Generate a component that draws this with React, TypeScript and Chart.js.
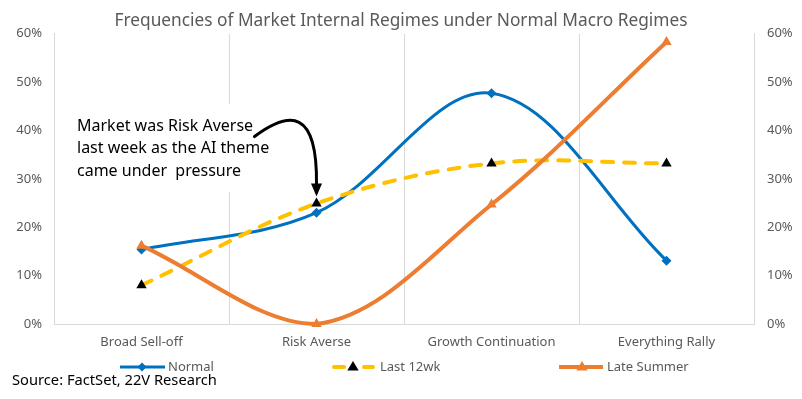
import React, { useEffect, useRef } from "react";
import { Chart, registerables } from "chart.js";

Chart.register(...registerables);

const titleText = "Frequencies of Market Internal Regimes under Normal Macro Regimes";
const categories = ["Broad Sell-off", "Risk Averse", "Growth Continuation", "Everything Rally"];
const normal = [15.4, 23.0, 47.7, 13.1];
const last12wk = [8.0, 24.9, 33.2, 33.2];
const lateSummer = [16.2, 0, 24.7, 58.3];
const seriesNames = ["Normal", "Last 12wk", "Late Summer"];
const annotationLines = ["Market was Risk Averse", "last week as the AI theme", "came under  pressure"];
const sourceText = "Source: FactSet, 22V Research";

const FONT = "'Noto Sans', sans-serif";
const GREY = "#595959";
const BLUE = "#0070C0";
const YELLOW = "#FFC000";
const ORANGE = "#ED7D31";
const GRID = "#D9D9D9";

function drawTri(ctx: CanvasRenderingContext2D, x: number, y: number, r: number, color: string) {
  ctx.save();
  ctx.fillStyle = color;
  ctx.beginPath();
  ctx.moveTo(x, y - r);
  ctx.lineTo(x + r * 0.95, y + r * 0.6);
  ctx.lineTo(x - r * 0.95, y + r * 0.6);
  ctx.closePath();
  ctx.fill();
  ctx.restore();
}

const extrasPlugin = {
  id: "extras",
  beforeDatasetsDraw(chart: any) {
    const ctx = chart.ctx;
    ctx.save();
    ctx.fillStyle = "#ffffff";
    ctx.fillRect(70, 104, 184, 88);
    ctx.restore();
  },
  afterDatasetsDraw(chart: any) {
    const ctx: CanvasRenderingContext2D = chart.ctx;
    const xs = chart.scales.x;
    const ys = chart.scales.y;
    // annotation text
    ctx.save();
    ctx.fillStyle = "#000000";
    ctx.font = `16px ${FONT}`;
    ctx.textAlign = "left";
    ctx.textBaseline = "middle";
    annotationLines.forEach((t, i) => ctx.fillText(t, 77, 126 + i * 22.5));
    // arrow
    const tipX = xs.getPixelForValue(1);
    const tipY = ys.getPixelForValue(last12wk[1]) - 7;
    ctx.strokeStyle = "#000000";
    ctx.lineWidth = 3;
    ctx.lineCap = "round";
    ctx.beginPath();
    ctx.moveTo(tipX - 62, tipY - 60);
    ctx.bezierCurveTo(tipX - 27, tipY - 86, tipX + 1, tipY - 88, tipX, tipY - 12);
    ctx.stroke();
    ctx.fillStyle = "#000000";
    ctx.beginPath();
    ctx.moveTo(tipX - 5.5, tipY - 13);
    ctx.lineTo(tipX + 5.5, tipY - 13);
    ctx.lineTo(tipX, tipY);
    ctx.closePath();
    ctx.fill();
    ctx.restore();

    // legend
    const ly = 367;
    ctx.save();
    ctx.lineCap = "butt";
    // Normal
    ctx.strokeStyle = BLUE;
    ctx.lineWidth = 3;
    ctx.beginPath();
    ctx.moveTo(120, ly);
    ctx.lineTo(165, ly);
    ctx.stroke();
    ctx.fillStyle = BLUE;
    ctx.beginPath();
    ctx.moveTo(142, ly - 4.5);
    ctx.lineTo(146.5, ly);
    ctx.lineTo(142, ly + 4.5);
    ctx.lineTo(137.5, ly);
    ctx.closePath();
    ctx.fill();
    // Last 12wk
    ctx.strokeStyle = YELLOW;
    ctx.lineWidth = 4;
    ctx.lineCap = "round";
    ctx.beginPath();
    ctx.moveTo(334, ly);
    ctx.lineTo(344, ly);
    ctx.moveTo(364, ly);
    ctx.lineTo(373, ly);
    ctx.stroke();
    drawTri(ctx, 353, ly, 6, "#000000");
    // Late Summer
    ctx.strokeStyle = ORANGE;
    ctx.lineWidth = 4;
    ctx.lineCap = "butt";
    ctx.beginPath();
    ctx.moveTo(559, ly);
    ctx.lineTo(603, ly);
    ctx.stroke();
    drawTri(ctx, 582, ly, 6, ORANGE);
    ctx.fillStyle = GREY;
    ctx.font = `13px ${FONT}`;
    ctx.textAlign = "left";
    ctx.textBaseline = "middle";
    ctx.fillText(seriesNames[0], 168, ly);
    ctx.fillText(seriesNames[1], 380, ly);
    ctx.fillText(seriesNames[2], 607, ly);
    // source
    ctx.fillStyle = "#000000";
    ctx.font = `14.7px ${FONT}`;
    ctx.fillText(sourceText, 12, 381);
    ctx.restore();
  },
};

export default function App() {
  const ref = useRef<HTMLCanvasElement | null>(null);
  useEffect(() => {
    if (!ref.current) return;
    const yTicks = {
      stepSize: 10,
      color: GREY,
      font: { family: FONT, size: 13 },
      callback: (v: any) => `${v}%`,
    };
    const chart = new Chart(ref.current, {
      type: "line",
      data: {
        labels: categories,
        datasets: [
          {
            label: seriesNames[0],
            data: normal,
            borderColor: BLUE,
            backgroundColor: BLUE,
            borderWidth: 3,
            tension: 0.35,
            pointStyle: "rectRot",
            pointRadius: 5,
            pointBorderWidth: 0,
            order: 3,
            clip: false,
          },
          {
            label: seriesNames[1],
            data: last12wk,
            borderColor: YELLOW,
            backgroundColor: "#000000",
            pointBackgroundColor: "#000000",
            pointBorderColor: "#000000",
            borderWidth: 4,
            borderDash: [11, 11],
            borderCapStyle: "round",
            tension: 0.35,
            pointStyle: "triangle",
            pointRadius: 6,
            pointBorderWidth: 0,
            order: 2,
            clip: false,
          },
          {
            label: seriesNames[2],
            data: lateSummer,
            borderColor: ORANGE,
            backgroundColor: ORANGE,
            borderWidth: 4,
            tension: 0.35,
            pointStyle: "triangle",
            pointRadius: 6,
            pointBorderWidth: 0,
            order: 1,
            clip: false,
          },
        ] as any,
      },
      options: {
        responsive: false,
        animation: false,
        layout: { padding: 0 },
        plugins: {
          legend: { display: false },
          tooltip: { enabled: false },
          title: {
            display: true,
            text: titleText,
            color: GREY,
            font: { family: FONT, size: 17.3, weight: "normal" },
            padding: { top: 11, bottom: 2 },
          },
        },
        scales: {
          x: {
            type: "category",
            offset: true,
            grid: { offset: true, color: GRID, drawTicks: false },
            border: { color: GRID },
            ticks: { color: GREY, font: { family: FONT, size: 13 }, padding: 10, maxRotation: 0 },
            afterFit: (s: any) => {
              s.height = 75;
            },
          },
          y: {
            position: "left",
            min: 0,
            max: 60,
            grid: { display: false, drawTicks: false },
            border: { color: GRID },
            ticks: { ...yTicks, padding: 12 },
            afterFit: (s: any) => {
              s.width = 54;
            },
          },
          y2: {
            position: "right",
            min: 0,
            max: 60,
            grid: { display: false, drawTicks: false },
            border: { color: GRID },
            ticks: { ...yTicks, padding: 13 },
            afterFit: (s: any) => {
              s.width = 48;
            },
          },
        },
      } as any,
      plugins: [extrasPlugin],
    });
    return () => chart.destroy();
  }, []);
  return (
    <div style={{ position: "fixed", left: 0, top: 0, width: 802, height: 399, background: "#fff" }}>
      <canvas ref={ref} width={802} height={399} style={{ display: "block" }} />
    </div>
  );
}
